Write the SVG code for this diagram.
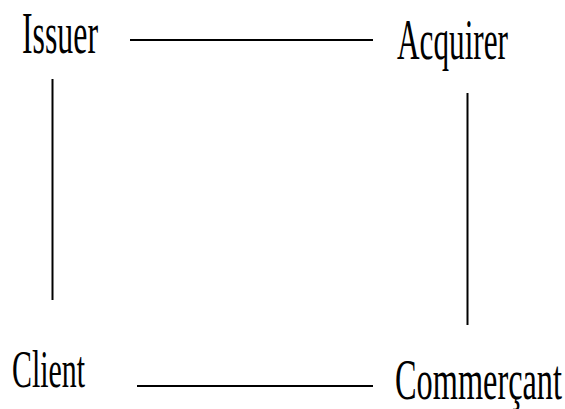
<svg xmlns="http://www.w3.org/2000/svg" width="565" height="409" viewBox="0 0 565 409">
<style>
.lbl{font-family:"Liberation Serif","Times New Roman",serif;font-size:57px;fill:#000}
.conn line{stroke:#000;stroke-width:2}
</style>
<rect width="565" height="409" fill="#fff"/>
<g class="conn" id="connectors">
<line x1="130" y1="40" x2="373" y2="40"/>
<line x1="52.5" y1="79" x2="52.5" y2="300"/>
<line x1="467.5" y1="93" x2="467.5" y2="325"/>
<line x1="137" y1="386" x2="373" y2="386"/>
</g>
<g id="issuer"><text class="lbl" x="22" y="53" textLength="76" lengthAdjust="spacingAndGlyphs" style="font-size:60px">Issuer</text></g>
<g id="acquirer"><text class="lbl" x="397" y="59" textLength="111" lengthAdjust="spacingAndGlyphs">Acquirer</text></g>
<g id="client"><text class="lbl" x="12" y="387" textLength="73" lengthAdjust="spacingAndGlyphs" style="font-size:53px">Client</text></g>
<g id="commercant"><text class="lbl" x="395" y="399" textLength="167" lengthAdjust="spacingAndGlyphs" style="font-size:56px">Commerçant</text></g>
</svg>
